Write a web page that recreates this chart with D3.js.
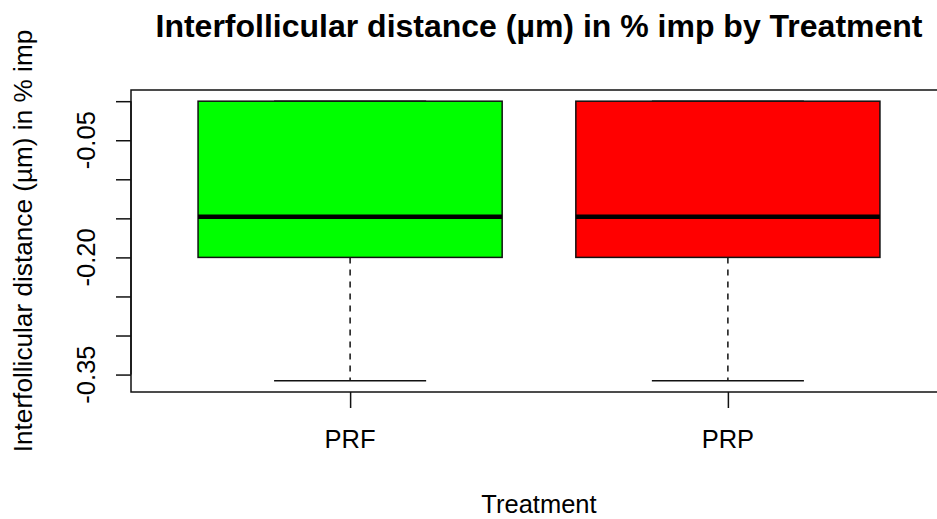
<!DOCTYPE html>
<html>
<head>
<meta charset="utf-8">
<script src="https://cdn.jsdelivr.net/npm/d3@7"></script>
<style>
  html, body { margin: 0; padding: 0; background: #fff; }
  svg { display: block; font-family: "Liberation Sans", Arial, sans-serif; }
</style>
</head>
<body>
<svg id="chart" width="937" height="519"></svg>
<script>
// Box statistics per treatment group
const groups   = ["PRF", "PRP"];
const fills    = ["#00ff00", "#ff0000"];
const mins     = [-0.358, -0.358];
const q1s      = [-0.20, -0.20];
const medians  = [-0.148, -0.148];
const q3s      = [0.00, 0.00];
const maxs     = [0.00, 0.00];

// y-axis ticks and which ones carry a label
const yTicks      = [-0.35, -0.30, -0.25, -0.20, -0.15, -0.10, -0.05, 0.00];
const yTickLabels = ["-0.35", "", "", "-0.20", "", "", "-0.05", ""];

const titleText = "Interfollicular distance (\u00b5m) in % imp by Treatment";
const xTitle = "Treatment";
const yTitle = "Interfollicular distance (\u00b5m) in % imp";

const svg = d3.select("#chart");

const plot = { left: 131, right: 947, top: 90, bottom: 392 };

// data range padded by 4% on each side
const lo = d3.min(mins), hi = d3.max(maxs);
const pad = (hi - lo) * 0.04;
const y = d3.scaleLinear().domain([lo - pad, hi + pad]).range([plot.bottom, plot.top]);

const nx = groups.length;
const xpad = nx * 0.04;
const x = d3.scaleLinear().domain([0.5 - xpad, nx + 0.5 + xpad]).range([plot.left, plot.right]);

const boxHalf = 0.4025;   // half box width in group units
const capHalf = boxHalf / 2;

const stroke = "#111";
const lw = 1.5;
const fs = 25.5;

const boxes = svg.append("g").selectAll("g")
  .data(groups.map((g, i) => ({ g, i, pos: i + 1 })))
  .join("g");

// lower whisker (dashed)
boxes.append("line")
  .attr("x1", d => x(d.pos)).attr("x2", d => x(d.pos))
  .attr("y1", d => y(q1s[d.i])).attr("y2", d => y(mins[d.i]))
  .attr("stroke", stroke).attr("stroke-width", lw).attr("stroke-dasharray", "6,6");
// upper whisker (dashed)
boxes.append("line")
  .attr("x1", d => x(d.pos)).attr("x2", d => x(d.pos))
  .attr("y1", d => y(q3s[d.i])).attr("y2", d => y(maxs[d.i]))
  .attr("stroke", stroke).attr("stroke-width", lw).attr("stroke-dasharray", "6,6");
// whisker caps
boxes.append("line")
  .attr("x1", d => x(d.pos - capHalf)).attr("x2", d => x(d.pos + capHalf))
  .attr("y1", d => y(mins[d.i])).attr("y2", d => y(mins[d.i]))
  .attr("stroke", stroke).attr("stroke-width", lw);
boxes.append("line")
  .attr("x1", d => x(d.pos - capHalf)).attr("x2", d => x(d.pos + capHalf))
  .attr("y1", d => y(maxs[d.i])).attr("y2", d => y(maxs[d.i]))
  .attr("stroke", stroke).attr("stroke-width", lw);
// boxes
boxes.append("rect")
  .attr("x", d => x(d.pos - boxHalf))
  .attr("width", d => x(d.pos + boxHalf) - x(d.pos - boxHalf))
  .attr("y", d => y(q3s[d.i]))
  .attr("height", d => y(q1s[d.i]) - y(q3s[d.i]))
  .attr("fill", d => fills[d.i])
  .attr("stroke", stroke).attr("stroke-width", lw);
// medians
boxes.append("line")
  .attr("x1", d => x(d.pos - boxHalf)).attr("x2", d => x(d.pos + boxHalf))
  .attr("y1", d => y(medians[d.i])).attr("y2", d => y(medians[d.i]))
  .attr("stroke", "#000").attr("stroke-width", 4.5);

// plot frame
svg.append("rect")
  .attr("x", plot.left).attr("y", plot.top)
  .attr("width", plot.right - plot.left).attr("height", plot.bottom - plot.top)
  .attr("fill", "none").attr("stroke", stroke).attr("stroke-width", lw);

// y axis
const yAxis = svg.append("g")
  .attr("transform", `translate(${plot.left},0)`)
  .call(d3.axisLeft(y).tickValues(yTicks).tickSize(15).tickFormat(() => ""));
yAxis.selectAll("path").remove();
yAxis.append("line")
  .attr("x1", 0).attr("x2", 0)
  .attr("y1", y(d3.min(yTicks))).attr("y2", y(d3.max(yTicks)))
  .attr("stroke", stroke).attr("stroke-width", lw);
yAxis.selectAll(".tick line").attr("stroke", stroke).attr("stroke-width", lw);

svg.append("g").selectAll("text")
  .data(yTicks.map((v, i) => ({ v, t: yTickLabels[i] })).filter(d => d.t))
  .join("text")
  .attr("transform", d => `translate(95,${y(d.v)}) rotate(-90)`)
  .attr("text-anchor", "middle")
  .attr("font-size", fs)
  .attr("fill", "#000")
  .text(d => d.t);

// x axis
const xAxis = svg.append("g")
  .attr("transform", `translate(0,${plot.bottom})`)
  .call(d3.axisBottom(x).tickValues(groups.map((g, i) => i + 1)).tickSize(16).tickFormat(() => ""));
xAxis.selectAll("path").remove();
xAxis.selectAll(".tick line").attr("stroke", stroke).attr("stroke-width", lw);

svg.append("g").selectAll("text")
  .data(groups)
  .join("text")
  .attr("x", (d, i) => x(i + 1))
  .attr("y", 448)
  .attr("text-anchor", "middle")
  .attr("font-size", fs)
  .attr("fill", "#000")
  .text(d => d);

// titles
svg.append("text")
  .attr("x", 539).attr("y", 37)
  .attr("text-anchor", "middle")
  .attr("font-size", 32).attr("font-weight", "bold")
  .attr("fill", "#000")
  .text(titleText);

svg.append("text")
  .attr("x", 539).attr("y", 513)
  .attr("text-anchor", "middle")
  .attr("font-size", fs)
  .attr("fill", "#000")
  .text(xTitle);

svg.append("text")
  .attr("transform", `translate(32,${(plot.top + plot.bottom) / 2}) rotate(-90)`)
  .attr("text-anchor", "middle")
  .attr("font-size", 26.2)
  .attr("fill", "#000")
  .text(yTitle);
</script>
</body>
</html>
